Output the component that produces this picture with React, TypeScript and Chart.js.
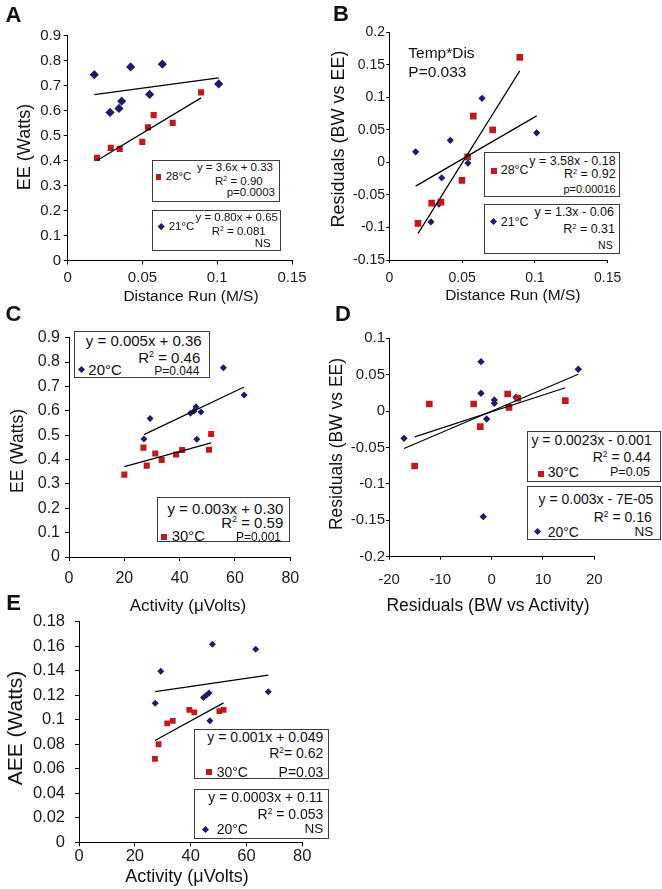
import React, { useEffect, useRef } from 'react';
import { Chart, registerables } from 'chart.js';
Chart.register(...registerables);

const FONT = 'Arial, "Liberation Sans", Helvetica, sans-serif';
const NAVY = '#1e1b6b';
const RED = '#c1181f';
const PAGE_W = 662;

// ---------- Panel A: EE vs distance run ----------
const aRedX = [0.0196, 0.0288, 0.0348, 0.0499, 0.0537, 0.0575, 0.0702, 0.0892];
const aRedY = [0.411, 0.451, 0.447, 0.475, 0.533, 0.582, 0.551, 0.673];
const aNavyX = [0.0178, 0.0283, 0.0343, 0.0361, 0.0421, 0.0548, 0.0633, 0.101];
const aNavyY = [0.744, 0.593, 0.609, 0.638, 0.775, 0.665, 0.786, 0.707];
const aFitRed = [3.6, 0.33];
const aFitNavy = [0.8, 0.65];
const aXTicks = [0, 0.05, 0.1, 0.15];
const aYTicks = [0, 0.1, 0.2, 0.3, 0.4, 0.5, 0.6, 0.7, 0.8, 0.9];

// ---------- Panel B: residuals vs distance run ----------
const bRedX = [0.0197, 0.0291, 0.0355, 0.0499, 0.0538, 0.0577, 0.071, 0.0896];
const bRedY = [-0.0938, -0.0626, -0.061, -0.0277, 0.0086, 0.0712, 0.05, 0.1615];
const bNavyX = [0.0181, 0.0286, 0.0341, 0.036, 0.0419, 0.054, 0.0637, 0.1012];
const bNavyY = [0.0163, -0.0914, -0.064, -0.0237, 0.034, -0.001, 0.0985, 0.0455];
const bFitRed = [3.58, -0.18];
const bFitNavy = [1.3, -0.06];
const bXTicks = [0, 0.05, 0.1, 0.15];
const bYTicks = [-0.15, -0.1, -0.05, 0, 0.05, 0.1, 0.15, 0.2];

// ---------- Panel C: EE vs activity ----------
const cNavyX = [27.1, 29.3, 43.9, 45.2, 45.9, 47.7, 46.2, 55.8, 63.3];
const cNavyY = [0.484, 0.568, 0.59, 0.599, 0.617, 0.595, 0.483, 0.777, 0.665];
const cRedX = [20.0, 26.9, 28.1, 31.2, 33.5, 38.7, 40.9, 50.6, 51.4];
const cRedY = [0.338, 0.449, 0.375, 0.425, 0.398, 0.421, 0.439, 0.44, 0.505];
const cFitNavy = [0.0054, 0.356];
const cFitRed = [0.0031, 0.309];
const cXTicks = [0, 20, 40, 60, 80];
const cYTicks = [0, 0.1, 0.2, 0.3, 0.4, 0.5, 0.6, 0.7, 0.8, 0.9];

// ---------- Panel D: residuals vs residuals ----------
const dNavyX = [-17.08, -2.08, -2.08, -0.97, 0.52, 0.52, 4.74, -1.63, 16.88];
const dNavyY = [-0.0374, 0.0679, 0.0245, -0.0108, 0.0152, 0.0107, 0.019, -0.145, 0.0574];
const dRedX = [-15.0, -12.15, -3.5, -2.21, 3.12, 3.38, 5.07, 14.35];
const dRedY = [-0.0754, 0.0098, 0.0098, -0.0214, 0.0235, 0.0052, 0.0176, 0.0143];
const dFitRed = [0.0023, -0.001];
const dFitNavy = [0.003, -0.00007];
const dXTicks = [-20, -10, 0, 10, 20];
const dYTicks = [-0.2, -0.15, -0.1, -0.05, 0, 0.05, 0.1];

// ---------- Panel E: AEE vs activity ----------
const eNavyX = [27.3, 29.3, 44.6, 45.7, 46.6, 46.9, 47.8, 63.3, 67.8];
const eNavyY = [0.1134, 0.1395, 0.1181, 0.1202, 0.1218, 0.0992, 0.1615, 0.1575, 0.1229];
const eRedX = [27.2, 28.5, 31.6, 33.6, 39.5, 41.3, 50.3, 51.8];
const eRedY = [0.068, 0.08, 0.097, 0.099, 0.108, 0.106, 0.107, 0.108];
const eFitRed = [0.00125, 0.049];
const eFitNavy = [0.000336, 0.1137];
const eXTicks = [0, 20, 40, 60, 80];
const eYTicks = [0, 0.02, 0.04, 0.06, 0.08, 0.1, 0.12, 0.14, 0.16, 0.18];

type Series = { x: number[]; y: number[]; fit: number[]; r: number };
type PanelCfg = {
  canvas: { left: number; top: number; w: number; h: number };
  area: { l: number; r: number; t: number; b: number };
  yW: number;
  xTicks: number[];
  yTicks: number[];
  tickSize: number;
  xPad: number;
  yPad: number;
  tickLen: number;
  red: Series;
  navy: Series;
};

const fmt = (v: number) => String(Math.round(v * 10000) / 10000);

function ScatterPanel({ cfg }: { cfg: PanelCfg }) {
  const ref = useRef<HTMLCanvasElement>(null);
  useEffect(() => {
    const { canvas: cv, area, yW } = cfg;
    const padding = {
      left: area.l - cv.left - yW,
      right: cv.left + cv.w - area.r,
      top: area.t - cv.top,
      bottom: 0,
    };
    const xH = cv.top + cv.h - area.b;
    const pts = (xs: number[], ys: number[]) => xs.map((x, i) => ({ x, y: ys[i] }));
    const line = (xs: number[], fit: number[]) => {
      const lo = Math.min(...xs);
      const hi = Math.max(...xs);
      return [
        { x: lo, y: fit[0] * lo + fit[1] },
        { x: hi, y: fit[0] * hi + fit[1] },
      ];
    };
    const axisCommon = (ticksArr: number[], pad: number) => ({
      type: 'linear' as const,
      min: ticksArr[0],
      max: ticksArr[ticksArr.length - 1],
      afterBuildTicks: (s: any) => {
        s.ticks = ticksArr.map((v) => ({ value: v }));
      },
      ticks: {
        callback: (v: any) => fmt(Number(v)),
        font: { family: FONT, size: cfg.tickSize },
        color: '#1a1a1a',
        padding: pad,
        autoSkip: false,
        maxRotation: 0,
      },
      grid: {
        display: true,
        drawOnChartArea: false,
        drawTicks: true,
        tickLength: cfg.tickLen,
        color: '#000',
        lineWidth: 1,
      },
      border: { display: true, color: '#000', width: 1 },
    });
    const chart = new Chart(ref.current as HTMLCanvasElement, {
      type: 'scatter',
      data: {
        datasets: [
          {
            data: line(cfg.red.x, cfg.red.fit),
            showLine: true,
            borderColor: '#000',
            borderWidth: 1.2,
            pointRadius: 0,
            order: 0,
          } as any,
          {
            data: line(cfg.navy.x, cfg.navy.fit),
            showLine: true,
            borderColor: '#000',
            borderWidth: 1.2,
            pointRadius: 0,
            order: 0,
          } as any,
          {
            data: pts(cfg.red.x, cfg.red.y),
            backgroundColor: RED,
            borderColor: RED,
            borderWidth: 0,
            pointStyle: 'rect',
            pointRadius: cfg.red.r,
            pointHoverRadius: cfg.red.r,
            order: 1,
          },
          {
            data: pts(cfg.navy.x, cfg.navy.y),
            backgroundColor: NAVY,
            borderColor: NAVY,
            borderWidth: 0,
            pointStyle: 'rectRot',
            pointRadius: cfg.navy.r,
            pointHoverRadius: cfg.navy.r,
            order: 2,
          },
        ],
      },
      options: {
        animation: false,
        responsive: false,
        events: [],
        layout: { padding },
        plugins: { legend: { display: false }, tooltip: { enabled: false } },
        scales: {
          x: {
            ...axisCommon(cfg.xTicks, cfg.xPad),
            afterFit: (s: any) => {
              s.height = xH;
            },
          },
          y: {
            ...axisCommon(cfg.yTicks, cfg.yPad),
            afterFit: (s: any) => {
              s.width = yW;
            },
          },
        } as any,
      },
    });
    return () => chart.destroy();
  }, [cfg]);
  return (
    <canvas
      ref={ref}
      width={cfg.canvas.w}
      height={cfg.canvas.h}
      style={{ position: 'absolute', left: cfg.canvas.left, top: cfg.canvas.top }}
    />
  );
}

const panelA: PanelCfg = {
  canvas: { left: 0, top: 0, w: 330, h: 300 },
  area: { l: 67.7, r: 292, t: 35.7, b: 260.5 },
  yW: 50, xTicks: aXTicks, yTicks: aYTicks, tickSize: 15, xPad: 4.8, yPad: 2.7, tickLen: 4,
  red: { x: aRedX, y: aRedY, fit: aFitRed, r: 4.3 },
  navy: { x: aNavyX, y: aNavyY, fit: aFitNavy, r: 4.6 },
};
const panelB: PanelCfg = {
  canvas: { left: 331, top: 0, w: 331, h: 300 },
  area: { l: 389.3, r: 607.7, t: 32.3, b: 260 },
  yW: 50, xTicks: bXTicks, yTicks: bYTicks, tickSize: 14, xPad: 6.9, yPad: 1.3, tickLen: 3,
  red: { x: bRedX, y: bRedY, fit: bFitRed, r: 4.7 },
  navy: { x: bNavyX, y: bNavyY, fit: bFitNavy, r: 3.6 },
};
const panelC: PanelCfg = {
  canvas: { left: 0, top: 305, w: 330, h: 285 },
  area: { l: 69, r: 290.3, t: 337.7, b: 557 },
  yW: 50, xTicks: cXTicks, yTicks: cYTicks, tickSize: 16, xPad: 7.7, yPad: 5, tickLen: 4,
  red: { x: cRedX, y: cRedY, fit: cFitRed, r: 4.3 },
  navy: { x: cNavyX, y: cNavyY, fit: cFitNavy, r: 3.5 },
};
const panelD: PanelCfg = {
  canvas: { left: 331, top: 305, w: 331, h: 285 },
  area: { l: 389, r: 594.3, t: 338.3, b: 556.7 },
  yW: 52, xTicks: dXTicks, yTicks: dYTicks, tickSize: 15, xPad: 11, yPad: 1, tickLen: 3,
  red: { x: dRedX, y: dRedY, fit: dFitRed, r: 4.7 },
  navy: { x: dNavyX, y: dNavyY, fit: dFitNavy, r: 3.7 },
};
const panelE: PanelCfg = {
  canvas: { left: 0, top: 595, w: 330, h: 294 },
  area: { l: 79, r: 302.3, t: 621.7, b: 842.3 },
  yW: 62, xTicks: eXTicks, yTicks: eYTicks, tickSize: 16.5, xPad: 0.5, yPad: 10, tickLen: 4,
  red: { x: eRedX, y: eRedY, fit: eFitRed, r: 4.1 },
  navy: { x: eNavyX, y: eNavyY, fit: eFitNavy, r: 3.5 },
};

type TProps = {
  x: number; y: number; a?: 'left' | 'right' | 'center'; s: number; w?: number; rot?: boolean;
  children: React.ReactNode;
};
const T = ({ x, y, a = 'left', s, w = 400, rot = false, children }: TProps) => {
  const style: React.CSSProperties = {
    position: 'absolute', top: y, fontFamily: FONT, fontSize: s, lineHeight: 1,
    whiteSpace: 'nowrap', color: '#111', fontWeight: w,
  };
  if (rot) {
    style.left = x;
    style.transform = 'translate(-50%,-50%) rotate(-90deg)';
  } else if (a === 'left') {
    style.left = x;
    style.transform = 'translateY(-50%)';
  } else if (a === 'right') {
    style.right = PAGE_W - x;
    style.transform = 'translateY(-50%)';
  } else {
    style.left = x;
    style.transform = 'translate(-50%,-50%)';
  }
  return <div style={style}>{children}</div>;
};
const R2 = () => (
  <>
    R<span style={{ fontSize: '0.6em', position: 'relative', top: '-0.6em' }}>2</span>
  </>
);
const Box = ({ l, t, w, h }: { l: number; t: number; w: number; h: number }) => (
  <div
    style={{
      position: 'absolute', left: l, top: t, width: w, height: h,
      border: '1.5px solid #3c3c3c', boxSizing: 'border-box', background: '#fff',
    }}
  />
);
const Sq = ({ x, y, s = 6 }: { x: number; y: number; s?: number }) => (
  <div style={{ position: 'absolute', left: x - s / 2, top: y - s / 2, width: s, height: s, background: RED }} />
);
const Dm = ({ x, y, s = 5 }: { x: number; y: number; s?: number }) => (
  <div
    style={{
      position: 'absolute', left: x - s / 2, top: y - s / 2, width: s, height: s,
      background: NAVY, transform: 'rotate(45deg)',
    }}
  />
);

export default function App() {
  return (
    <div style={{ position: 'absolute', left: 0, top: 0, width: PAGE_W, height: 889, background: '#fff', overflow: 'hidden' }}>
      <ScatterPanel cfg={panelA} />
      <ScatterPanel cfg={panelB} />
      <ScatterPanel cfg={panelC} />
      <ScatterPanel cfg={panelD} />
      <ScatterPanel cfg={panelE} />

      {/* panel letters */}
      <T x={13.5} y={14.5} a="center" s={22} w={700}>A</T>
      <T x={341} y={14} a="center" s={22} w={700}>B</T>
      <T x={13.5} y={313.5} a="center" s={22} w={700}>C</T>
      <T x={343} y={313.5} a="center" s={22} w={700}>D</T>
      <T x={13.5} y={603} a="center" s={22} w={700}>E</T>

      {/* Panel A */}
      <T x={24} y={147} s={18} rot>EE (Watts)</T>
      <T x={191} y={295.7} a="center" s={15.5}>Distance Run (M/S)</T>
      <Box l={151.7} t={160} w={128.3} h={42.3} />
      <Sq x={158.7} y={177} s={5.5} />
      <T x={165.7} y={177} s={11.5}>28°C</T>
      <T x={273} y={168} a="right" s={11.5}>y = 3.6x + 0.33</T>
      <T x={262.7} y={181.7} a="right" s={11.5}><R2 /> = 0.90</T>
      <T x={275} y={192.7} a="right" s={11.5}>p=0.0003</T>
      <Box l={151.7} t={210} w={129} h={41} />
      <Dm x={161} y={226.7} s={4.5} />
      <T x={168.7} y={226.7} s={11.5}>21°C</T>
      <T x={278} y={218} a="right" s={11.5}>y = 0.80x + 0.65</T>
      <T x={265.7} y={231.7} a="right" s={11.5}><R2 /> = 0.081</T>
      <T x={270.7} y={244.3} a="right" s={11.5}>NS</T>

      {/* Panel B */}
      <T x={337.5} y={138.5} s={18} rot>Residuals (BW vs EE)</T>
      <T x={512.8} y={295.3} a="center" s={15.5}>Distance Run (M/S)</T>
      <T x={408.3} y={53.3} s={15.5}>Temp*Dis</T>
      <T x={408.3} y={71.7} s={15.5}>P=0.033</T>
      <Box l={484.3} t={151.7} w={135.7} h={45} />
      <Sq x={493.7} y={170.7} s={6} />
      <T x={500.7} y={169.5} s={12.5}>28°C</T>
      <T x={615.7} y={160.7} a="right" s={12.5}>y = 3.58x - 0.18</T>
      <T x={615.7} y={174.3} a="right" s={12.5}><R2 /> = 0.92</T>
      <T x={615.7} y={189} a="right" s={11}>p=0.00016</T>
      <Box l={484.3} t={204} w={135.7} h={50} />
      <Dm x={493.3} y={221.7} s={5} />
      <T x={500.7} y={221.7} s={12.5}>21°C</T>
      <T x={614} y={212} a="right" s={12.5}>y = 1.3x - 0.06</T>
      <T x={615} y={229} a="right" s={12.5}><R2 /> = 0.31</T>
      <T x={612.7} y={245} a="right" s={10.5}>NS</T>

      {/* Panel C */}
      <T x={17.5} y={451} s={17.5} rot>EE (Watts)</T>
      <T x={188} y={605} a="center" s={17}>Activity (μVolts)</T>
      <Box l={74.3} t={330.7} w={135.7} h={47} />
      <T x={201.7} y={340} a="right" s={15}>y = 0.005x + 0.36</T>
      <T x={200.3} y={356.7} a="right" s={15}><R2 /> = 0.46</T>
      <Dm x={81.7} y={369} s={5} />
      <T x={88.3} y={369} s={15}>20°C</T>
      <T x={199.3} y={371} a="right" s={12}>P=0.044</T>
      <Box l={156.7} t={496.7} w={133.3} h={45} />
      <T x={283.3} y={507.7} a="right" s={15}>y = 0.003x + 0.30</T>
      <T x={283.3} y={521.7} a="right" s={15}><R2 /> = 0.59</T>
      <Sq x={164} y={536.7} s={6} />
      <T x={171.7} y={535} s={15}>30°C</T>
      <T x={281} y={537.3} a="right" s={12}>P=0.001</T>

      {/* Panel D */}
      <T x={337} y={443.5} s={17.5} rot>Residuals (BW vs EE)</T>
      <T x={488} y={606} a="center" s={17.5}>Residuals (BW vs Activity)</T>
      <Box l={526.7} t={431} w={134.3} h={50.7} />
      <T x={651.7} y={440} a="right" s={14}>y = 0.0023x - 0.001</T>
      <T x={650.7} y={457.3} a="right" s={14}><R2 /> = 0.44</T>
      <Sq x={540.7} y={474} s={6} />
      <T x={547.7} y={472.3} s={14}>30°C</T>
      <T x={650} y={472.3} a="right" s={12.5}>P=0.05</T>
      <Box l={526.7} t={485.7} w={134.3} h={54.3} />
      <T x={653.3} y={499} a="right" s={14}>y = 0.003x - 7E-05</T>
      <T x={651.7} y={516.7} a="right" s={14}><R2 /> = 0.16</T>
      <Dm x={537.3} y={531.7} s={5} />
      <T x={547.7} y={531.7} s={14}>20°C</T>
      <T x={653.3} y={531.7} a="right" s={13.5}>NS</T>

      {/* Panel E */}
      <T x={13.5} y={728} s={21} rot>AEE (Watts)</T>
      <T x={187} y={876} a="center" s={18}>Activity (μVolts)</T>
      <Box l={194.3} t={729.3} w={135} h={50} />
      <T x={323.3} y={736.7} a="right" s={14}>y = 0.001x + 0.049</T>
      <T x={323.3} y={753.3} a="right" s={14}><R2 />= 0.62</T>
      <Sq x={209} y={771.7} s={6} />
      <T x={216.7} y={771.7} s={14}>30°C</T>
      <T x={323.3} y={771.7} a="right" s={14}>P=0.03</T>
      <Box l={194.3} t={789} w={135} h={50.3} />
      <T x={323.3} y={797.3} a="right" s={14}>y = 0.0003x + 0.11</T>
      <T x={323.3} y={814.3} a="right" s={14}><R2 /> = 0.053</T>
      <Dm x={205.7} y={829.3} s={5} />
      <T x={216.7} y={829.3} s={14}>20°C</T>
      <T x={323.3} y={829.3} a="right" s={13.5}>NS</T>
    </div>
  );
}
